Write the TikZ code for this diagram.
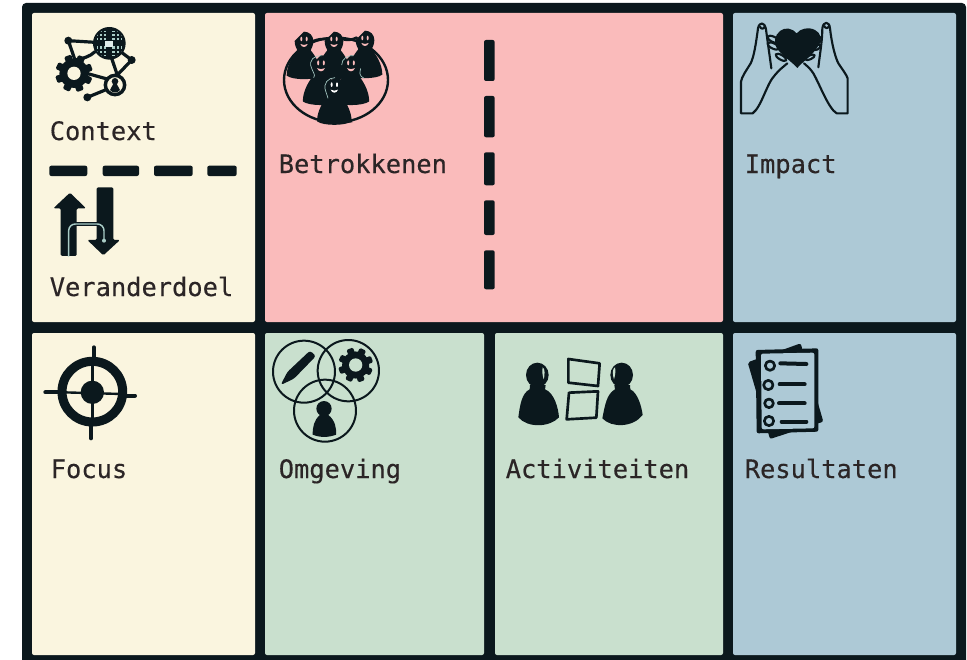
\documentclass[tikz,border=0pt]{standalone}
\usepackage{fontspec}
\newfontfamily\labfont[FakeBold=0.35]{DejaVu Sans Mono}
\definecolor{dk}{HTML}{0B181D}
\definecolor{yel}{HTML}{FAF5DF}
\definecolor{pnk}{HTML}{FABBBB}
\definecolor{blu}{HTML}{ADC9D6}
\definecolor{grn}{HTML}{C9E0CE}
\definecolor{lite}{HTML}{A9CCC6}
\definecolor{txt}{HTML}{2B2526}
\tikzset{
  panel/.style={rounded corners=1.5pt},
  lab/.style={anchor=base west,inner sep=0pt,text=txt,font=\labfont\fontsize{19.05pt}{20pt}\selectfont},
  dashbar/.style={fill=dk,rounded corners=1.5pt},
  ink/.style={draw=dk,line cap=round,line join=round},
}
\newcommand\ghost[4]{% x y scale mouth-colour
  \begin{scope}[shift={(#1,#2)},scale=#3]
    \fill[dk] (0,-28) .. controls (16,-28) and (28,-16) .. (28,0) .. controls (28,12) and (24,20) .. (20,28) .. controls (32,42) and (52,72) .. (52,104) .. controls (34,118) and (-34,118) .. (-52,104) .. controls (-52,72) and (-32,42) .. (-20,28) .. controls (-24,20) and (-28,12) .. (-28,0) -- cycle;
    \fill[#4] (-8,-6) ellipse [x radius=3,y radius=7];
    \fill[#4] (8,-6) ellipse [x radius=3,y radius=7];
    \fill[#4] (-11,9) .. controls (-4,13) and (4,13) .. (11,9) .. controls (7,21) and (-7,21) .. (-11,9) -- cycle;
  \end{scope}}
\newcommand\gearicon[5]{% x y r hole colour
  \begin{scope}[shift={(#1,#2)}]
    \fill[dk] (0,0) circle [radius=#3*0.78];
    \foreach \a in {0,45,...,315}
      \fill[dk,rotate=\a+20,rounded corners=1pt] (-#3*0.2,0) rectangle (#3*0.2,#3);
    \fill[#5] (0,0) circle [radius=#4];
  \end{scope}}
\begin{document}
\begin{tikzpicture}[x=.75pt,y=-.75pt]
\useasboundingbox (0,0) rectangle (967,660);
% frame
\fill[dk,rounded corners=3pt] (22,3) rectangle (966,672);
% panels
\fill[yel,panel] (32,13) rectangle (255,322);
\fill[pnk,panel] (265,13) rectangle (723,322);
\fill[blu,panel] (733,13) rectangle (956,322);
\fill[yel,panel] (32,333) rectangle (255,655);
\fill[grn,panel] (265,333) rectangle (484,655);
\fill[grn,panel] (495,333) rectangle (723,655);
\fill[blu,panel] (733,333) rectangle (956,655);
% dashes horizontal
\fill[dashbar] (49.3,165.7) rectangle (87.3,176);
\fill[dashbar] (102.7,165.7) rectangle (139,176);
\fill[dashbar] (154,165.7) rectangle (192.7,176);
\fill[dashbar] (207.3,165.7) rectangle (236.7,176);
% dashes vertical
\fill[dashbar] (484,40) rectangle (494.7,81);
\fill[dashbar] (484,96) rectangle (494.7,137.3);
\fill[dashbar] (484,152.3) rectangle (494.7,185.3);
\fill[dashbar] (484,200.3) rectangle (494.7,235);
\fill[dashbar] (484,250.3) rectangle (494.7,289.3);
% labels
\node[lab] (context) at (49.5,140) {Context};
\node[lab] (veranderdoel) at (49.5,296) {Veranderdoel};
\node[lab] (betrokkenen) at (278.5,173) {Betrokkenen};
\node[lab] (impact) at (744.5,173) {Impact};
\node[lab] (focus) at (50.5,478) {Focus};
\node[lab] (omgeving) at (278.5,478) {Omgeving};
\node[lab] (activiteiten) at (505.5,478) {Activiteiten};
\node[lab] (resultaten) at (744.5,478) {Resultaten};

% --- Context icon
\begin{scope}[shift={(30,10)},scale=1/3]
  \draw[ink,line width=2.4pt] (115,92) -- (195,97);
  \draw[ink,line width=2.4pt] (115,92) -- (135,150);
  \draw[ink,line width=2.4pt] (135,150) .. controls (160,145) and (180,140) .. (195,125);
  \draw[ink,line width=2.4pt] (170,190) -- (235,208);
  \draw[ink,line width=2.4pt] (172,262) -- (238,235);
  \draw[ink,line width=2.4pt] (262,195) -- (305,150);
  \draw[ink,line width=2.4pt] (262,195) -- (245,145);
  \draw[ink,line width=2.4pt] (272,125) -- (305,150);
  \fill[dk] (115,92) circle [radius=12];
  \fill[dk] (305,150) circle [radius=12];
  \fill[dk] (172,262) circle [radius=12];
  \draw[ink,line width=2.6pt,fill=yel] (255,225) circle [radius=29];
  \fill[dk] (255,214) circle [radius=10];
  \fill[dk] (255,212) -- (270,240) .. controls (262,250) and (248,250) .. (240,240) -- cycle;
  \fill[dk] (238,100) circle [radius=49];
  \begin{scope}
    \clip (238,100) circle [radius=43];
    \foreach \i/\xx/\w in {-3/-36/4,-2/-25/6,-1/-13/8,1/13/8,2/25/6,3/36/4}
      \foreach \j/\yy/\h in {-3/-36/4,-2/-25/6,-1/-13/8,1/13/8,2/25/6,3/36/4}
        \fill[lite] (238+\xx-\w/2,100+\yy-\h/2) rectangle (238+\xx+\w/2,100+\yy+\h/2);
    \fill[lite!35!white] (226,94) rectangle (250,110);
  \end{scope}
  \gearicon{132}{190}{56}{20}{yel}
\end{scope}

% --- Veranderdoel icon
\begin{scope}[shift={(30,10)},scale=1/3]
  \fill[dk,rounded corners=1pt] (92,738) -- (92,595) -- (70,595) -- (120,548) -- (168,595) -- (140,595) -- (140,738) -- cycle;
  \fill[dk,rounded corners=1pt] (200,532) -- (250,532) -- (250,690) -- (270,690) -- (220,736) -- (172,690) -- (200,690) -- cycle;
  \fill[dk] (138,636) rectangle (202,648);
  \draw[lite,line width=1.1pt,rounded corners=5pt] (116,740) -- (116,642) -- (222,642) -- (222,692);
  \fill[lite] (222,692) circle [radius=6];
\end{scope}

% --- Betrokkenen icon
\begin{scope}[shift={(265,15)},scale=1/3]
  \draw[ink,line width=1.8pt] (213,195) ellipse [x radius=156,y radius=127];
  \draw[ink,line width=2pt] (140,80) .. controls (160,72) and (170,72) .. (185,72);
  \draw[ink,line width=2pt] (232,72) .. controls (245,76) and (260,76) .. (275,68);
  \ghost{117}{78}{1}{pnk}
  \ghost{300}{75}{1}{pnk}
  \ghost{207}{78}{1}{pnk}
  \ghost{168}{150}{1.05}{pnk}
  \ghost{258}{150}{1.05}{pnk}
  \draw[lite,line width=.5pt] (140,160) .. controls (128,135) and (150,120) .. (170,122);
  \draw[lite,line width=.5pt] (140,160) .. controls (145,175) and (152,178) .. (146,188);
  \draw[lite,line width=.5pt] (230,150) .. controls (230,130) and (250,120) .. (265,122);
  \draw[lite,line width=.5pt] (287,160) .. controls (284,175) and (282,182) .. (297,190);
  \ghost{208}{215}{1}{white}
  \draw[lite,line width=.5pt] (182,228) .. controls (173,205) and (190,188) .. (210,188);
  \draw[lite,line width=.5pt] (182,228) .. controls (186,245) and (193,248) .. (186,260);
  \fill[dk] (176,250) -- (240,250) -- (262,322) .. controls (230,326) and (195,326) .. (165,322) -- cycle;
\end{scope}

% --- Impact icon
\begin{scope}[shift={(730,10)},scale=1/3]
  \begin{scope}[ink,line width=1.6pt]
    \draw (124,175) .. controls (118,130) and (112,90) .. (108,58) .. controls (104,35) and (88,35) .. (84,55) .. controls (78,100) and (72,140) .. (62,160) .. controls (50,180) and (35,200) .. (33,215) -- (33,310) -- (68,310) .. controls (95,290) and (110,220) .. (135,195) .. controls (145,182) and (160,170) .. (172,160);
    \draw (265,172) .. controls (270,130) and (277,90) .. (277,55) .. controls (280,33) and (298,33) .. (300,55) .. controls (305,100) and (315,140) .. (325,160) .. controls (335,175) and (350,195) .. (353,205) -- (353,310) -- (320,310) .. controls (295,295) and (270,225) .. (250,190) .. controls (240,175) and (232,168) .. (222,160);
    \draw (90,50) .. controls (92,58) and (102,58) .. (104,50);
    \draw (283,48) .. controls (285,56) and (295,56) .. (297,48);
    \draw[rotate around={-25:(130,88)}] (130,88) ellipse [x radius=19,y radius=8];
    \draw[rotate around={-25:(130,108)}] (130,108) ellipse [x radius=19,y radius=8];
    \draw[rotate around={-30:(153,142)}] (153,142) ellipse [x radius=18,y radius=7];
    \draw[rotate around={25:(264,90)}] (264,90) ellipse [x radius=12,y radius=8];
    \draw[rotate around={25:(260,112)}] (260,112) ellipse [x radius=12,y radius=7];
    \draw[rotate around={25:(240,142)}] (240,142) ellipse [x radius=15,y radius=6];
  \end{scope}
  \fill[dk] (200,70) .. controls (188,55) and (165,50) .. (150,63) .. controls (133,76) and (130,100) .. (143,118) .. controls (158,138) and (185,155) .. (202,174) .. controls (218,155) and (245,138) .. (262,112) .. controls (280,90) and (272,68) .. (255,60) .. controls (235,50) and (212,55) .. (200,70) -- cycle;
\end{scope}

% --- Focus icon
\begin{scope}[shift={(30,330)},scale=1/3]
  \draw[ink,line width=3pt] (192,52) -- (192,90);
  \draw[ink,line width=3pt] (183,280) -- (183,325);
  \draw[ink,line width=3pt] (46,187) -- (90,187);
  \draw[ink,line width=3pt] (285,197) -- (315,197);
  \draw[ink,line width=1.8pt] (187,100) -- (187,270);
  \draw[ink,line width=1.8pt] (100,187) -- (275,192);
  \draw[dk,line width=6.8pt] (187,185) circle [radius=91];
  \fill[dk] (187,187) circle [radius=35];
\end{scope}

% --- Omgeving icon
\begin{scope}[shift={(30,330)},scale=1/3]
  \draw[ink,line width=1.5pt] (822,125) circle [radius=93];
  \draw[ink,line width=1.5pt] (955,122) circle [radius=92];
  \draw[ink,line width=1.5pt] (885,242) circle [radius=93];
  \fill[dk,rounded corners=2pt] (840,62) -- (858,78) -- (792,146) -- (752,165) -- (772,126) -- cycle;
  \gearicon{977}{105}{52}{20}{grn}
  \fill[dk] (882,236) circle [radius=23];
  \fill[dk] (870,255) -- (895,255) .. controls (915,270) and (920,295) .. (918,314) .. controls (895,323) and (870,323) .. (848,314) .. controls (848,290) and (852,270) .. (870,255) -- cycle;
\end{scope}

% --- Activiteiten icon
\begin{scope}[shift={(495,330)},scale=1/3]
  \fill[dk] (127,135) ellipse [x radius=34,y radius=37];
  \fill[dk] (105,165) -- (152,165) -- (150,178) .. controls (178,188) and (190,235) .. (192,262) .. controls (165,292) and (98,295) .. (70,262) .. controls (75,225) and (80,190) .. (104,178) -- cycle;
  \fill[grn] (143,112) .. controls (150,115) and (150,135) .. (146,148) .. controls (142,135) and (141,122) .. (143,112) -- cycle;
  \fill[dk] (380,135) ellipse [x radius=34,y radius=37];
  \fill[dk] (358,165) -- (405,165) -- (406,178) .. controls (428,188) and (440,230) .. (443,255) .. controls (415,292) and (350,295) .. (322,265) .. controls (330,225) and (335,192) .. (360,178) -- cycle;
  \fill[grn] (360,112) .. controls (352,115) and (352,135) .. (357,148) .. controls (361,135) and (362,122) .. (360,112) -- cycle;
  \draw[ink,line width=2pt] (220,87) -- (314,100) -- (309,168) -- (220,158) -- cycle;
  \draw[ink,line width=2pt] (222,188) -- (309,184) -- (304,263) -- (215,268) -- cycle;
\end{scope}

% --- Resultaten icon
\begin{scope}[shift={(735,335)},scale=1/3]
  \fill[dk,rounded corners=1.5pt] (38,82) -- (197,25) -- (265,260) -- (105,312) -- cycle;
  \fill[dk,rounded corners=1.5pt] (62,45) -- (250,40) -- (250,290) -- (65,295) -- cycle;
  \fill[blu,rounded corners=1.5pt] (78,56) -- (238,53) -- (238,280) -- (80,283) -- cycle;
  \draw[ink,line width=2pt,fill=blu] (105,92) circle [radius=14];
  \draw[ink,line width=2pt,fill=blu] (100,150) circle [radius=14];
  \draw[ink,line width=2pt,fill=blu] (102,205) circle [radius=13];
  \draw[ink,line width=2pt,fill=blu] (102,258) circle [radius=14];
  \draw[ink,line width=3pt] (136,85) -- (214,87);
  \draw[ink,line width=3pt] (134,148) -- (209,148);
  \draw[ink,line width=3pt] (132,205) -- (209,205);
  \draw[ink,line width=3pt] (140,260) -- (214,260);
\end{scope}
\end{tikzpicture}
\end{document}
